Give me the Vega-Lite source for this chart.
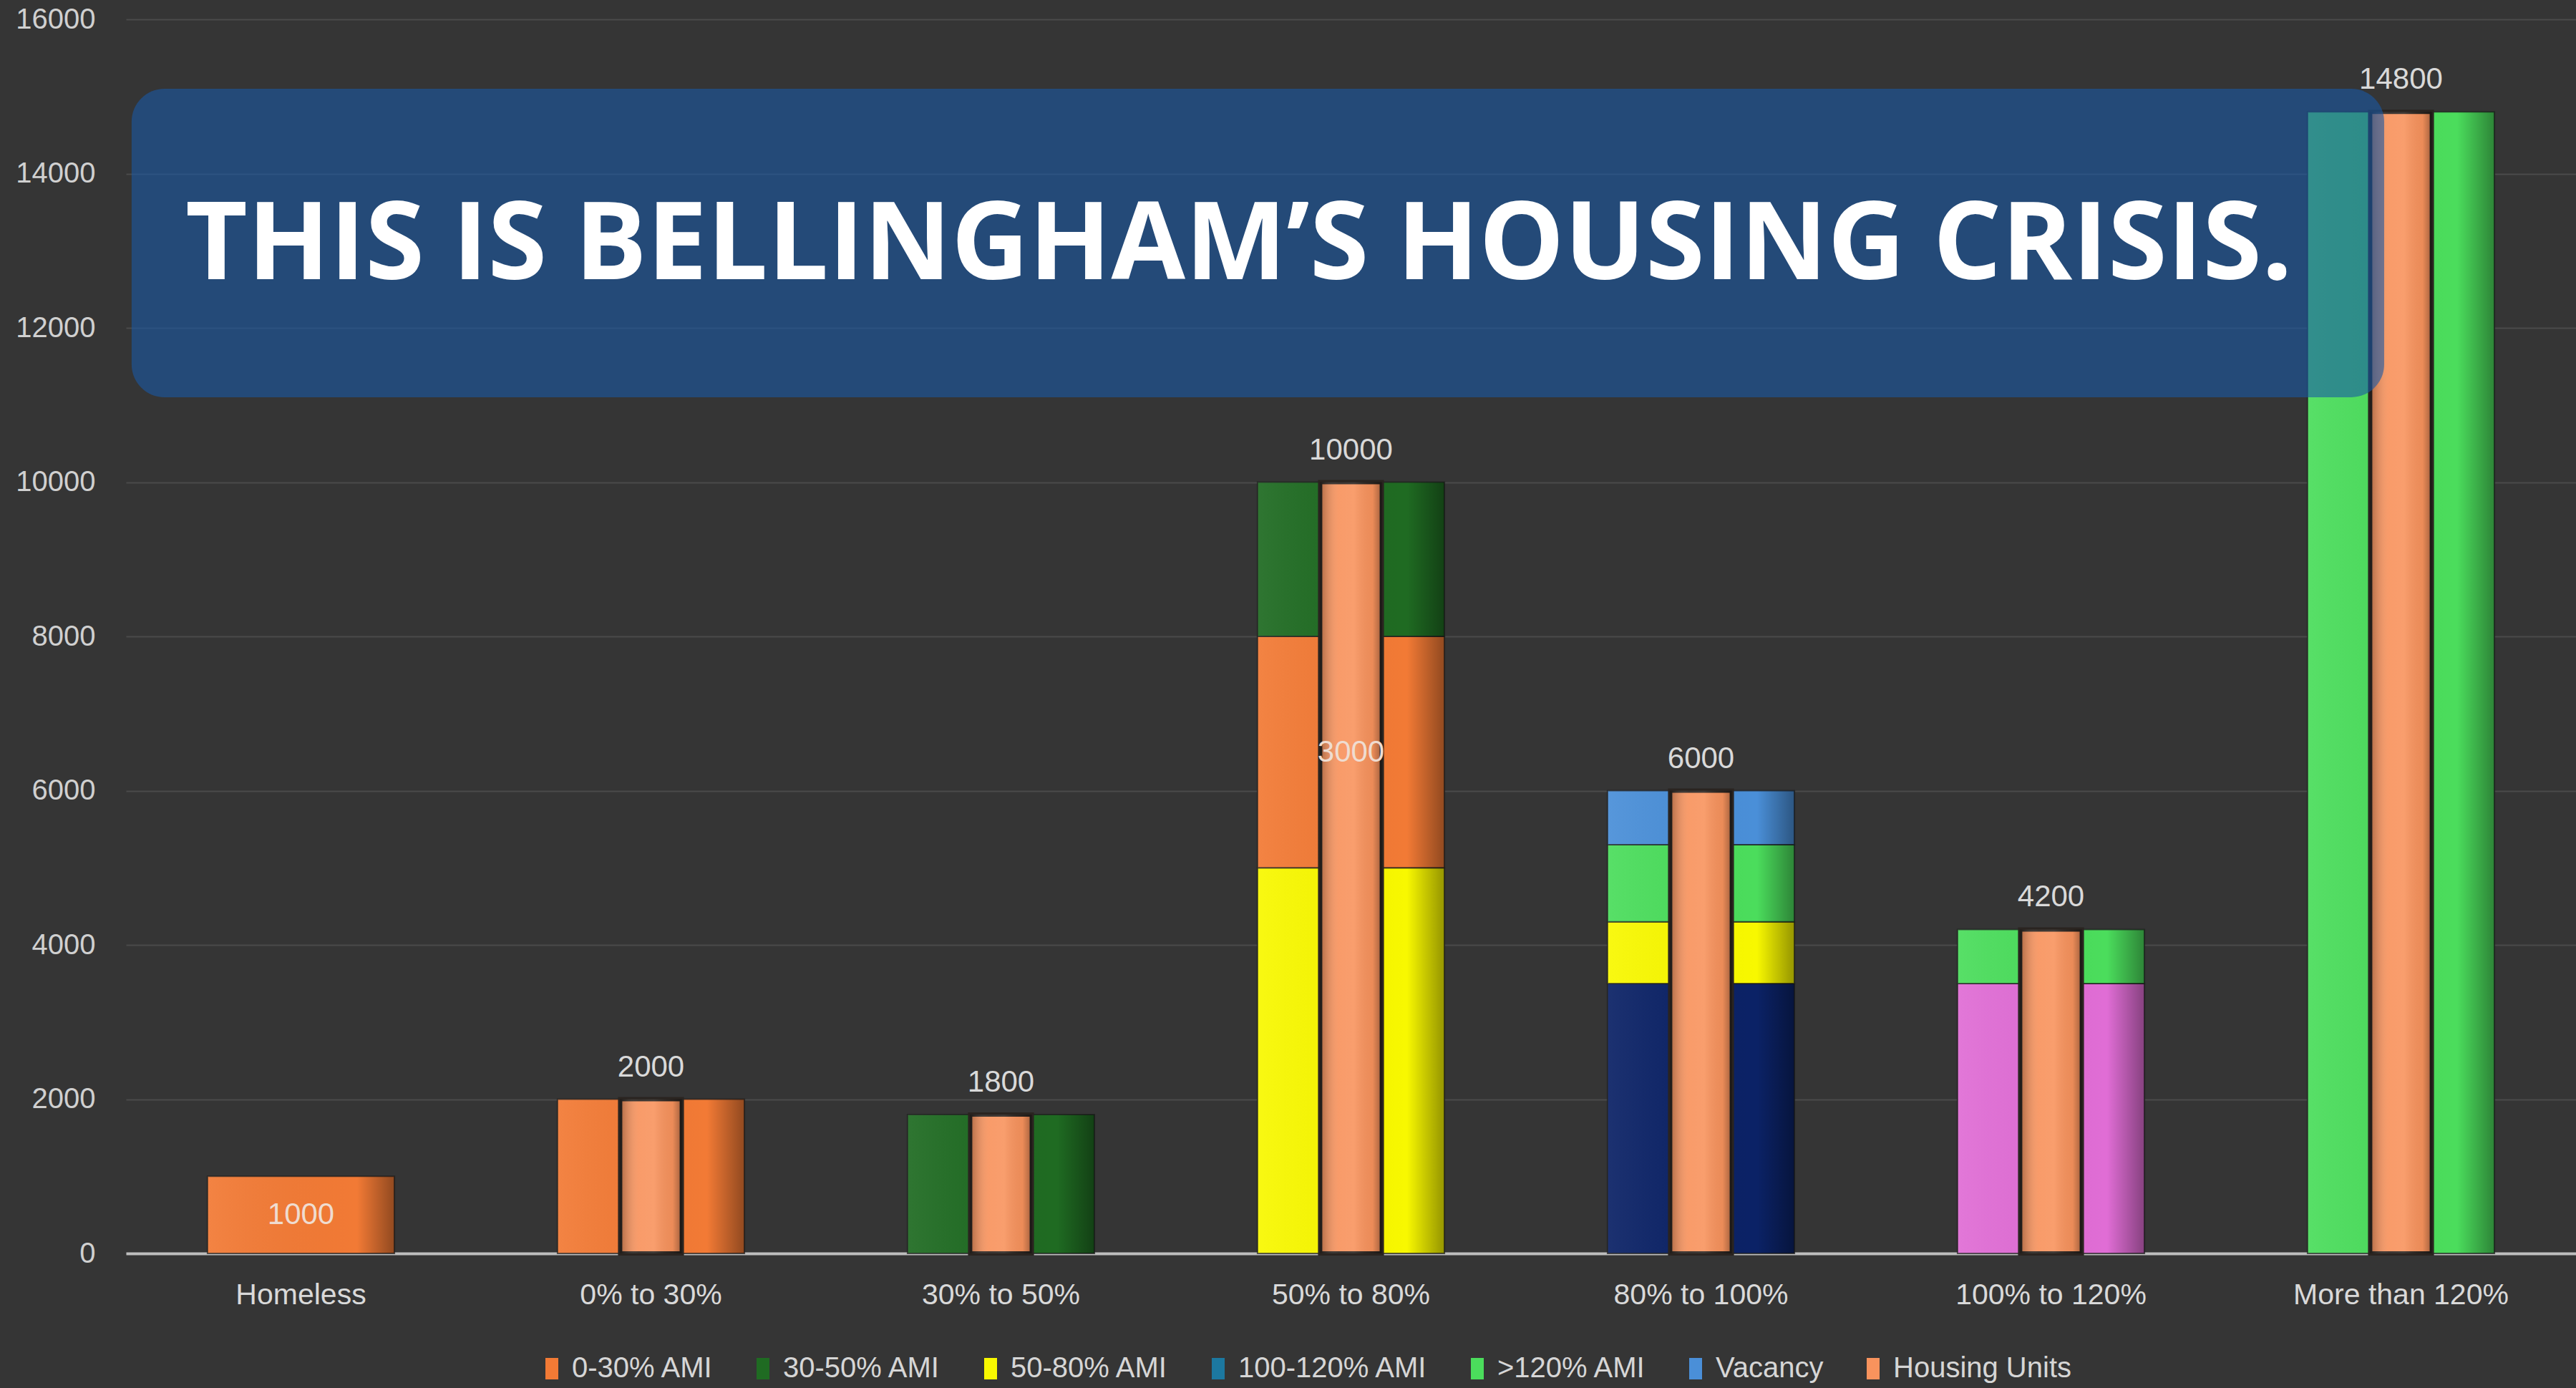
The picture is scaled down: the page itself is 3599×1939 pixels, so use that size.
{
  "$schema": "https://vega.github.io/schema/vega-lite/v6.json",
  "autosize": {"type": "none"},
  "padding": {"left": 176, "top": 27, "right": 0, "bottom": 188},
  "width": 3423,
  "height": 1724,
  "background": "#353535",
  "config": {"view": {"stroke": null}, "font": "Liberation Sans"},
  "datasets": {
    "segments": [
      {"category": "Homeless", "series": "0-30% AMI", "seg": 1, "value": 1000},
      {"category": "0% to 30%", "series": "0-30% AMI", "seg": 1, "value": 2000},
      {"category": "30% to 50%", "series": "30-50% AMI", "seg": 1, "value": 1800},
      {"category": "50% to 80%", "series": "50-80% AMI", "seg": 1, "value": 5000},
      {"category": "50% to 80%", "series": "0-30% AMI", "seg": 2, "value": 3000},
      {"category": "50% to 80%", "series": "30-50% AMI", "seg": 3, "value": 2000},
      {"category": "80% to 100%", "series": "80-100% AMI", "seg": 1, "value": 3500},
      {"category": "80% to 100%", "series": "50-80% AMI", "seg": 2, "value": 800},
      {"category": "80% to 100%", "series": ">120% AMI", "seg": 3, "value": 1000},
      {"category": "80% to 100%", "series": "Vacancy", "seg": 4, "value": 700},
      {"category": "100% to 120%", "series": "100-120% AMI (pink)", "seg": 1, "value": 3500},
      {"category": "100% to 120%", "series": ">120% AMI", "seg": 2, "value": 700},
      {"category": "More than 120%", "series": ">120% AMI", "seg": 1, "value": 14800}
    ],
    "units": [
      {"category": "0% to 30%", "series": "Housing Units", "value": 2000},
      {"category": "30% to 50%", "series": "Housing Units", "value": 1800},
      {"category": "50% to 80%", "series": "Housing Units", "value": 10000},
      {"category": "80% to 100%", "series": "Housing Units", "value": 6000},
      {"category": "100% to 120%", "series": "Housing Units", "value": 4200},
      {"category": "More than 120%", "series": "Housing Units", "value": 14800}
    ]
  },
  "resolve": {"scale": {"x": "independent"}},
  "layer": [
    {
      "layer": [
        {
          "data": {"name": "segments"},
          "mark": {"type": "bar", "stroke": "#1c1c1c", "strokeWidth": 2, "strokeOpacity": 0.7},
          "encoding": {
            "x": {
              "field": "category", "type": "nominal",
              "scale": {"domain": ["Homeless", "0% to 30%", "30% to 50%", "50% to 80%", "80% to 100%", "100% to 120%", "More than 120%"], "paddingInner": 0.466, "paddingOuter": 0.233},
              "axis": {"title": null, "domain": true, "domainColor": "#bdbdbd", "domainWidth": 4, "ticks": false, "grid": false, "labelPadding": 38, "labelFontSize": 41, "labelColor": "#d9d9d9", "labelAngle": 0, "labelLimit": 0}
            },
            "y": {
              "field": "value", "type": "quantitative", "stack": "zero",
              "scale": {"domain": [0, 16000], "nice": false},
              "axis": {"title": null, "domain": false, "ticks": false, "format": "d", "values": [0, 2000, 4000, 6000, 8000, 10000, 12000, 14000, 16000], "grid": true, "gridColor": "#4b4b4b", "gridWidth": 2, "labelPadding": 43, "labelFontSize": 40, "labelColor": "#d0d0d0"}
            },
            "color": {
              "field": "series", "type": "nominal",
              "scale": {
                "domain": ["0-30% AMI", "30-50% AMI", "50-80% AMI", "100-120% AMI", ">120% AMI", "Vacancy", "Housing Units", "80-100% AMI", "100-120% AMI (pink)"],
                "range": ["#f27a35", "#1f6b22", "#f8f800", "#1c78a0", "#4bdd5c", "#4a8fd8", "#f8935d", "#0b2266", "#e06dd5"]
              },
              "legend": {
                "values": ["0-30% AMI", "30-50% AMI", "50-80% AMI", "100-120% AMI", ">120% AMI", "Vacancy", "Housing Units"],
                "title": null, "orient": "none", "legendX": 575, "legendY": 1865, "direction": "horizontal", "columns": 7,
                "symbolType": "M-0.6,-1H0.6V1H-0.6Z", "symbolSize": 900, "symbolStrokeWidth": 0, "symbolOpacity": 1,
                "labelFontSize": 40, "labelColor": "#d6d6d6", "labelOffset": 8, "columnPadding": 49, "labelLimit": 0
              }
            },
            "order": {"field": "seg", "type": "quantitative"}
          }
        },
        {
          "data": {"name": "segments"},
          "mark": {"type": "bar", "fill": {"gradient": "linear", "x1": 0, "y1": 0, "x2": 1, "y2": 0, "stops": [{"offset": 0, "color": "rgba(255,255,255,0.07)"}, {"offset": 0.8, "color": "rgba(0,0,0,0)"}, {"offset": 1, "color": "rgba(0,0,0,0.4)"}]}},
          "encoding": {
            "x": {"field": "category", "type": "nominal"},
            "y": {"field": "value", "type": "quantitative", "stack": "zero"},
            "detail": {"field": "series"},
            "order": {"field": "seg", "type": "quantitative"}
          }
        },
        {
          "data": {"name": "units"},
          "mark": {"type": "bar", "width": {"band": 0.33}, "stroke": "#2a2420", "strokeWidth": 6},
          "encoding": {
            "x": {"field": "category", "type": "nominal"},
            "y": {"field": "value", "type": "quantitative", "stack": null},
            "color": {"field": "series", "type": "nominal"}
          }
        },
        {
          "data": {"name": "units"},
          "mark": {"type": "bar", "width": {"band": 0.33}, "fill": {"gradient": "linear", "x1": 0, "y1": 0, "x2": 1, "y2": 0, "stops": [{"offset": 0, "color": "rgba(0,0,0,0.3)"}, {"offset": 0.3, "color": "rgba(255,255,255,0.08)"}, {"offset": 0.55, "color": "rgba(255,255,255,0.1)"}, {"offset": 0.85, "color": "rgba(0,0,0,0.05)"}, {"offset": 1, "color": "rgba(0,0,0,0.35)"}]}},
          "encoding": {
            "x": {"field": "category", "type": "nominal"},
            "y": {"field": "value", "type": "quantitative", "stack": null}
          }
        },
        {
          "data": {"name": "units"},
          "mark": {"type": "text", "baseline": "alphabetic", "dy": -32, "fontSize": 42, "fill": "#d9d9d9"},
          "encoding": {
            "x": {"field": "category", "type": "nominal"},
            "y": {"field": "value", "type": "quantitative", "stack": null},
            "text": {"field": "value", "type": "quantitative", "format": "d"}
          }
        },
        {
          "data": {"name": "segments"},
          "transform": [
            {"stack": "value", "groupby": ["category"], "sort": [{"field": "seg", "order": "ascending"}], "as": ["v0", "v1"]},
            {"filter": "datum.series === '0-30% AMI' && datum.category !== '0% to 30%'"},
            {"calculate": "(datum.v0 + datum.v1) / 2", "as": "mid"}
          ],
          "mark": {"type": "text", "baseline": "middle", "fontSize": 42, "fill": "#efdcd0"},
          "encoding": {
            "x": {"field": "category", "type": "nominal"},
            "y": {"field": "mid", "type": "quantitative"},
            "text": {"field": "value", "type": "quantitative", "format": "d"}
          }
        }
      ]
    },
    {
      "data": {"values": [{"label": "THIS IS BELLINGHAM’S HOUSING CRISIS."}]},
      "layer": [
        {
          "mark": {"type": "rect", "fill": "#1958a5", "opacity": 0.6, "cornerRadius": 46},
          "encoding": {
            "x": {"datum": 0.0023, "type": "quantitative", "scale": {"domain": [0, 1]}, "axis": null},
            "x2": {"datum": 0.9217},
            "y": {"datum": 15100, "type": "quantitative"},
            "y2": {"datum": 11100}
          }
        },
        {
          "mark": {"type": "text", "align": "left", "baseline": "alphabetic", "font": "Open Sans", "fontWeight": 700, "fontSize": 150, "fill": "#ffffff"},
          "encoding": {
            "x": {"datum": 0.02425, "type": "quantitative", "scale": {"domain": [0, 1]}, "axis": null},
            "y": {"datum": 12630, "type": "quantitative"},
            "text": {"field": "label"}
          }
        }
      ]
    }
  ]
}
